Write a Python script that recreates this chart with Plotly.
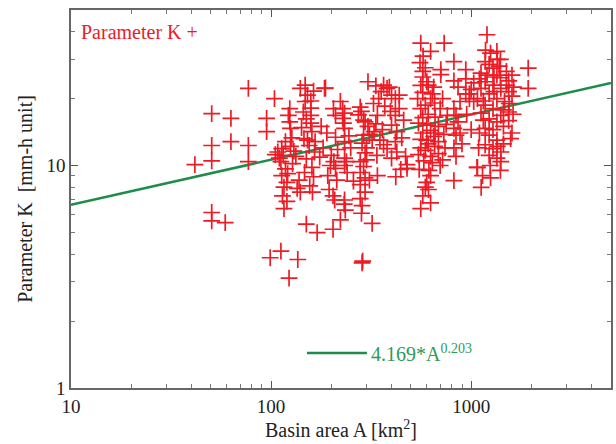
import plotly.graph_objects as go
import numpy as np

# Basin area A [km2] and parameter K values
area = [
    41.6, 50.5, 50.5, 50.5, 50.5, 50.5, 59, 63, 63, 77, 77, 77, 95, 95, 104, 99, 112, 136, 123, 150, 170, 204, 285, 287,
    113, 115, 112, 118, 113, 120, 114, 116, 120, 124, 122, 124, 125, 118, 108, 110, 125, 128, 121, 116, 105, 130, 127, 133, 135, 140, 138,
    140, 152, 148, 145, 150, 158, 160, 146, 155, 165, 150, 160, 163, 148, 163, 158, 158, 158, 142, 152, 166, 147, 156, 161,
    187, 185, 205, 210, 210, 200, 206, 198, 210, 195, 204, 208, 233, 232, 222, 235, 178, 190, 182, 175, 192, 215, 213,
    222, 228, 233, 228, 233, 233, 233, 238, 233, 230, 245, 250, 240, 258,
    305, 334, 279, 283, 273, 290, 295, 305, 310, 290, 285, 295, 279, 290, 279, 295, 279, 295, 279, 283, 320, 340, 334, 327, 320, 338, 340, 300, 310, 285, 300, 325, 345,
    365, 380, 400, 418, 437, 437, 418, 400, 425, 418, 425, 478, 478, 420, 400, 365, 380, 390, 355, 450, 460, 370, 395, 470, 360, 350, 445,
    560, 627, 733, 573, 573, 600, 560, 573, 540, 590, 627, 657, 610, 573, 545, 600, 627, 573, 560, 610, 657, 590, 545, 627, 686, 686, 700, 750, 760, 720, 705, 705, 640, 686, 627, 600, 612, 573, 560, 627, 580, 640, 550, 600, 660, 560, 590, 700, 740, 730, 610, 650, 555, 575, 660, 615, 720, 560, 590, 650,
    820, 940, 940, 820, 860, 940, 980, 980, 1030, 880, 820, 840, 860, 820, 880, 840, 820, 840, 820, 1070, 1122, 950, 1000, 1030, 900, 1000,
    1200, 1345, 1175, 1230, 1286, 1120, 1345, 1400, 1540, 1175, 1286, 1120, 1407, 1540, 1230, 1075, 1345, 1470, 1175, 1286, 1540, 1120, 1407, 1230, 1345, 1540, 1175, 1286, 1575, 1230, 1345, 1175, 1286, 1407, 1230, 1345, 1407, 1245, 1400, 1075, 1140, 1500, 1600, 1620, 1600, 1450, 1100, 1090, 1150, 1300, 1350, 1250, 1380, 1180, 1500, 1450, 1300, 1200, 1450, 1350, 1250, 1150, 1100, 1550, 1630, 1600, 1400,
    1928, 1928,
]
param_k = [
    10.1, 17.1, 12.3, 10.5, 6.15, 5.64, 5.54, 16.3, 12.8, 22.2, 12.3, 10.4, 16.3, 14.2, 20.0, 3.85, 4.12, 3.78, 3.12, 5.45, 4.99, 5.17, 3.65, 3.72,
    11.9, 11.1, 10.4, 9.66, 9.0, 8.4, 7.3, 6.4, 6.9, 18.0, 16.8, 15.7, 14.7, 12.8, 11.5, 10.8, 12.2, 10.2, 9.2, 8.0, 11.2, 11.6, 13.3, 11.0, 7.9, 7.6, 8.6,
    22.2, 20.7, 19.4, 17.4, 16.2, 15.5, 14.2, 13.2, 12.3, 11.5, 10.7, 9.8, 8.9, 23.0, 21.6, 19.5, 18.1, 16.8, 14.8, 13.0, 12.8, 9.3, 8.1, 7.6,
    22.3, 22.2, 18.0, 16.8, 13.4, 11.1, 10.4, 10.0, 9.7, 7.8, 7.3, 7.0, 7.0, 6.7, 5.7, 6.3, 15.0, 14.0, 12.0, 10.9, 9.0, 11.8, 8.6,
    19.4, 18.0, 17.2, 16.3, 14.7, 12.8, 10.8, 10.4, 10.0, 15.5, 13.6, 12.0, 9.3, 8.5,
    23.8, 22.8, 18.3, 17.5, 16.9, 16.0, 15.7, 15.0, 13.8, 13.7, 12.6, 11.4, 10.4, 9.9, 9.3, 8.8, 8.2, 7.6, 7.1, 6.1, 5.5, 16.8, 15.4, 14.2, 13.0, 11.1, 9.0, 12.0, 8.6, 6.6, 10.6, 19.0, 20.0,
    23.0, 22.2, 20.7, 20.0, 20.7, 18.0, 16.8, 15.2, 14.2, 12.8, 11.5, 10.1, 9.7, 8.9, 10.8, 12.4, 11.9, 22.5, 21.5, 13.3, 16.0, 18.5, 17.5, 11.0, 14.5, 13.0, 9.6,
    35.5, 32.6, 35.5, 26.5, 25.0, 23.8, 22.9, 21.3, 20.0, 18.7, 20.0, 19.1, 17.0, 16.4, 15.5, 15.2, 14.4, 14.0, 13.1, 12.5, 12.2, 11.7, 11.2, 11.0, 12.8, 11.3, 10.0, 15.3, 16.8, 20.0, 25.6, 27.0, 21.0, 15.0, 9.0, 8.4, 7.8, 7.3, 6.4, 6.8, 10.5, 10.3, 9.6, 13.0, 16.5, 18.0, 27.5, 18.0, 12.0, 13.8, 23.0, 22.5, 29.0, 31.0, 14.0, 9.5, 10.6, 12.0, 8.0, 13.5,
    29.3, 27.0, 24.5, 24.0, 22.5, 21.0, 21.0, 20.0, 19.4, 19.4, 18.0, 16.8, 15.7, 14.7, 14.0, 13.7, 12.0, 11.0, 8.55, 9.8, 7.98, 17.0, 22.0, 23.5, 12.5, 14.5,
    38.7, 32.6, 29.3, 28.5, 27.4, 26.0, 25.5, 24.8, 24.0, 23.8, 23.0, 22.2, 22.2, 21.5, 21.0, 20.0, 20.0, 19.4, 18.7, 18.0, 17.4, 17.2, 16.8, 16.2, 15.7, 15.9, 14.7, 14.5, 13.2, 13.7, 13.0, 12.4, 11.9, 11.5, 11.1, 10.8, 10.4, 10.0, 9.5, 9.8, 9.0, 23.0, 20.5, 17.0, 14.0, 12.5, 14.0, 12.0, 19.5, 25.0, 30.0, 32.0, 28.0, 33.0, 26.5, 17.8, 21.5, 25.5, 15.0, 12.2, 8.8, 16.0, 24.5, 19.0, 22.5, 25.5, 30.0,
    27.4, 22.2,
]

# Fitted power law K = 4.169 * A^0.203
coef = 4.169
expo = 0.203
fit_x = [10, 5000]
fit_y = [coef * a ** expo for a in fit_x]

x_major = [10, 100, 1000]
x_minor = [20, 30, 40, 50, 60, 70, 80, 90, 200, 300, 400, 500, 600, 700, 800, 900, 2000, 3000, 4000, 5000]
y_major = [1, 10]
y_minor = [2, 3, 4, 5, 6, 7, 8, 9, 20, 30, 40, 50]

FONT = "Liberation Serif, Times New Roman, serif"
RED = "#ee1b24"
GREEN = "#1f8c4c"

fig = go.Figure()
fig.add_trace(go.Scatter(
    x=fit_x, y=fit_y, mode="lines",
    line=dict(color=GREEN, width=2.5), showlegend=False, hoverinfo="skip",
))
fig.add_trace(go.Scatter(
    x=area, y=param_k, mode="markers",
    marker=dict(symbol="cross-thin", size=12, line=dict(color=RED, width=1.7), color=RED),
    showlegend=False,
))

axis_common = dict(
    type="log", showgrid=False, zeroline=False,
    showline=True, linecolor="#666666", linewidth=1.5, mirror="allticks",
    ticks="inside", ticklen=7, tickwidth=1, tickcolor="#555555",
    tickfont=dict(family=FONT, size=19, color="#222222"),
)

fig.update_xaxes(
    **axis_common,
    range=[1, np.log10(5000)],
    tickmode="array", tickvals=x_major, ticktext=[str(v) for v in x_major],
    minor=dict(tickmode="array", tickvals=x_minor, ticks="inside", ticklen=4, tickcolor="#777777"),
    title=dict(text="Basin area A [km<sup>2</sup>]", font=dict(family=FONT, size=20, color="#222222"), standoff=6),
)
fig.update_yaxes(
    **axis_common,
    range=[0, np.log10(50)],
    tickmode="array", tickvals=y_major, ticktext=[str(v) for v in y_major],
    minor=dict(tickmode="array", tickvals=y_minor, ticks="inside", ticklen=4, tickcolor="#777777"),
    title=dict(text="Parameter K  [mm-h unit]", font=dict(family=FONT, size=20, color="#222222"), standoff=8),
)

fig.add_annotation(
    xref="paper", yref="paper", x=0.014, y=0.942, xanchor="left", yanchor="middle",
    text="Parameter K +", showarrow=False, font=dict(family=FONT, size=20, color=RED),
)
fig.add_shape(
    type="line", xref="paper", yref="paper", x0=0.437, x1=0.548, y0=0.0926, y1=0.0926,
    line=dict(color=GREEN, width=2.5),
)
fig.add_annotation(
    xref="paper", yref="paper", x=0.551, y=0.0926, xanchor="left", yanchor="middle",
    text="4.169*A<sup>0.203</sup>", showarrow=False, font=dict(family=FONT, size=20, color="#2e9a5a"),
)

fig.update_layout(
    width=616, height=444,
    margin=dict(l=71, r=3, t=10, b=56),
    plot_bgcolor="white", paper_bgcolor="white",
)

fig.write_html(
    "out.html",
    config={"displayModeBar": False},
    post_script="document.body.style.margin='0';document.body.style.overflow='hidden';",
)
